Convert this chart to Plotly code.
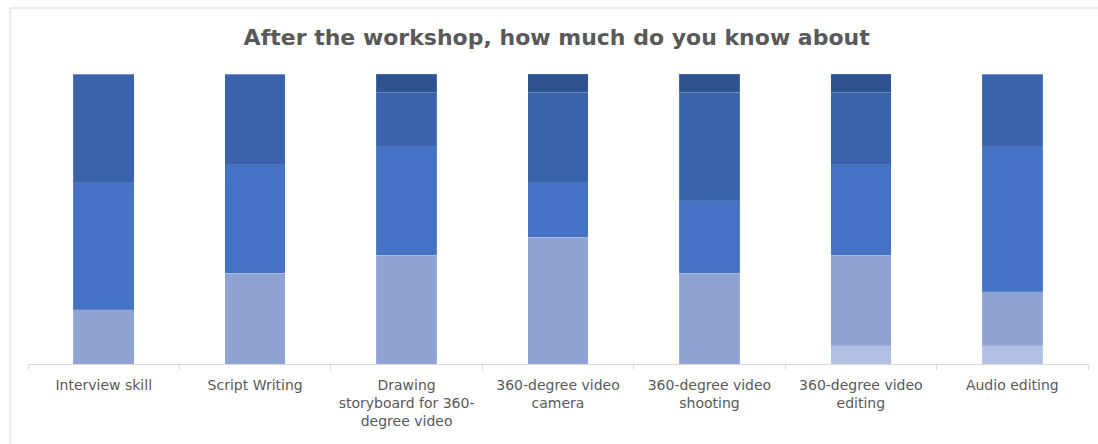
import plotly.graph_objects as go

# Workshop self-assessment: number of respondents per knowledge level
categories = [
    "Interview skill",
    "Script Writing",
    "Drawing<br>storyboard for 360-<br>degree video",
    "360-degree video<br>camera",
    "360-degree video<br>shooting",
    "360-degree video<br>editing",
    "Audio editing",
]
level_names = ["Nothing", "A little", "Some", "Quite a lot", "A lot"]
nothing = [0, 0, 0, 0, 0, 1, 1]
a_little = [3, 5, 6, 7, 5, 5, 3]
some = [7, 6, 6, 3, 4, 5, 8]
quite_a_lot = [6, 5, 3, 5, 6, 4, 4]
a_lot = [0, 0, 1, 1, 1, 1, 0]

series = [nothing, a_little, some, quite_a_lot, a_lot]
colors = ["#b4c0e3", "#8fa3d5", "#4472c4", "#3a63ac", "#2f5391"]

fig = go.Figure()
for name, vals, col in zip(level_names, series, colors):
    fig.add_trace(go.Bar(
        x=categories, y=vals, name=name,
        marker=dict(color=col, line=dict(color="rgba(255,255,255,0.2)", width=0.6)),
        width=0.4,
    ))

fig.update_layout(
    barmode="stack",
    width=1098, height=444,
    margin=dict(l=28, r=10, t=74, b=80),
    paper_bgcolor="white", plot_bgcolor="white",
    showlegend=False,
    title=dict(
        text="After the workshop, how much do you know about",
        x=0.507, xanchor="center", y=0.916, yanchor="middle",
        font=dict(family="DejaVu Sans", size=22, color="#595959", weight="bold"),
    ),
    xaxis=dict(
        showline=True, linecolor="#d9d9d9", linewidth=1,
        ticks="outside", tickson="boundaries", ticklen=5, tickcolor="#d9d9d9",
        tickfont=dict(family="DejaVu Sans", size=14, color="#595959"),
        ticklabelstandoff=8,
        range=[-0.5, 6.5], showgrid=False, tickangle=0,
    ),
    yaxis=dict(visible=False, range=[0, 16], showgrid=False),
    shapes=[dict(
        type="rect", xref="paper", yref="paper",
        x0=-18 / 1060, x1=1.2, y0=-0.5, y1=(444 - 8 - 80) / 290,
        line=dict(color="#d9d9d9", width=1),
    )],
)

fig.write_html("out.html")
